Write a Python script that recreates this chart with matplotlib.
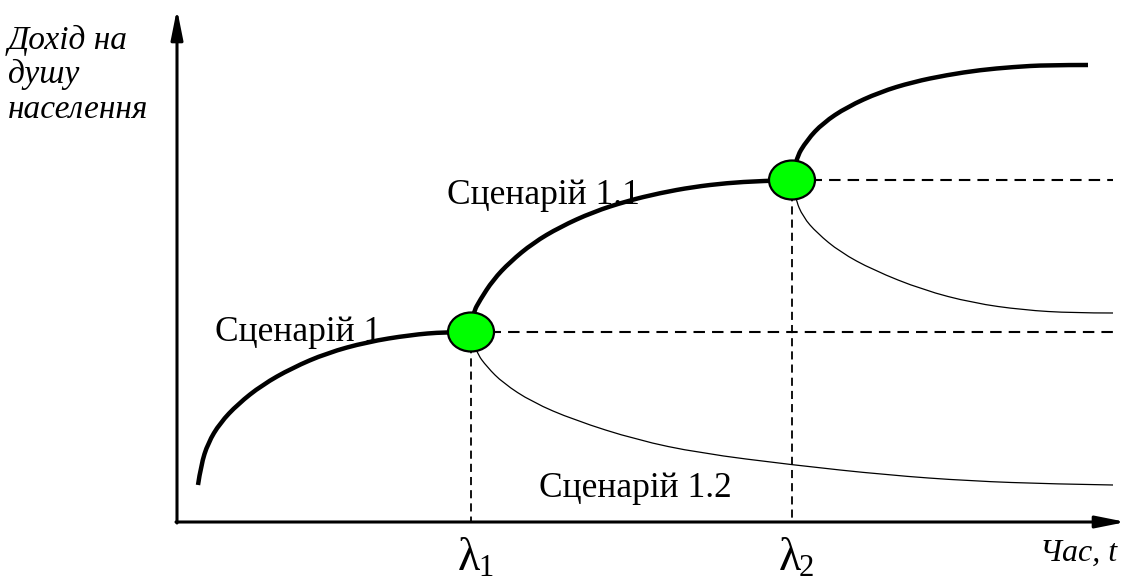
import matplotlib.pyplot as plt
from matplotlib.patches import Ellipse, PathPatch
from matplotlib.path import Path

# scenario curves (x to the right, y downward)
s1_x = [198, 201, 208, 220, 238, 262, 292, 327, 367, 410, 445, 470]
s1_y = [485, 465, 443, 423, 404, 385, 368, 353, 342, 335, 332, 332]

s11_x = [470, 473, 480, 493, 510, 533, 560, 593, 627, 660, 693, 727, 760, 793]
s11_y = [332, 313, 300, 280, 262, 243, 227, 212, 201, 193, 187, 183, 181, 180]

s111_x = [793, 795, 807, 823, 847, 880, 913, 947, 980, 1013, 1047, 1088]
s111_y = [180, 160, 140, 123, 107, 92, 82, 75, 70, 67, 65, 65]

s12_x = [470, 476, 487, 503, 532, 574, 637, 699, 793, 887, 970, 1053, 1113]
s12_y = [332, 352, 367, 383, 402, 420, 440, 453, 465, 475, 481, 484, 485]

s112_x = [793, 795, 803, 817, 840, 873, 923, 973, 1023, 1073, 1113]
s112_y = [180, 198, 217, 233, 252, 270, 290, 303, 310, 313, 313]

# branching points
nodes_x = [471, 792]
nodes_y = [332, 180]
lam_labels = ['1', '2']

x0, y0 = 177, 522
x_end = 1113


def smooth_path(xs, ys):
    # quadratic bezier through the midpoints, read points act as controls
    pts = list(zip(xs, ys))
    verts = [pts[0]]
    codes = [Path.MOVETO]
    for i in range(1, len(pts) - 1):
        mid = ((pts[i][0] + pts[i + 1][0]) / 2, (pts[i][1] + pts[i + 1][1]) / 2)
        if i == len(pts) - 2:
            mid = pts[-1]
        verts += [pts[i], mid]
        codes += [Path.CURVE3, Path.CURVE3]
    return Path(verts, codes)


fig = plt.figure(figsize=(11.26, 5.82), dpi=100)
ax = fig.add_axes([0, 0, 1, 1])
ax.set_xlim(0, 1126)
ax.set_ylim(582, 0)
ax.axis('off')

serif = 'Liberation Serif'

# axes with arrows
ax.annotate('', xy=(x0, 9), xytext=(x0, y0 + 1),
            arrowprops=dict(arrowstyle='-|>,head_length=0.9,head_width=0.18',
                            mutation_scale=20, lw=2.2, color='black',
                            shrinkA=0, shrinkB=0))
ax.annotate('', xy=(1126, y0), xytext=(x0 - 1, y0),
            arrowprops=dict(arrowstyle='-|>,head_length=0.9,head_width=0.18',
                            mutation_scale=20, lw=2.2, color='black',
                            shrinkA=0, shrinkB=0))

# dashed guides
for nx, ny in zip(nodes_x, nodes_y):
    ax.plot([nx, x_end], [ny, ny], color='black', lw=1.5,
            linestyle=(0, (5.5, 3.4)), zorder=2)
    ax.plot([nx, nx], [ny, y0], color='black', lw=1.3,
            linestyle=(0, (4.5, 2.8)), zorder=2)

# thin branches (pessimistic scenarios)
for xs, ys in [(s12_x, s12_y), (s112_x, s112_y)]:
    ax.add_patch(PathPatch(smooth_path(xs, ys), fill=False, edgecolor='black',
                           lw=0.9, zorder=3))

# thick main path
for xs, ys in [(s1_x, s1_y), (s11_x, s11_y), (s111_x, s111_y)]:
    ax.add_patch(PathPatch(smooth_path(xs, ys), fill=False, edgecolor='black',
                           lw=3.2, capstyle='butt', zorder=3))

for nx, ny in zip(nodes_x, nodes_y):
    ax.add_patch(Ellipse((nx, ny), 46, 39, facecolor='#00ff00',
                         edgecolor='black', lw=1.6, zorder=5))

# scenario labels
ax.text(215, 341, 'Сценарій 1', fontsize=25.5, family=serif, zorder=1)
ax.text(447, 204, 'Сценарій 1.1', fontsize=25.5, family=serif, zorder=1)
ax.text(539, 497, 'Сценарій 1.2', fontsize=25.5, family=serif, zorder=1)

# axis titles
ax.text(8, 49, 'Дохід на', fontsize=24, family=serif, style='italic')
ax.text(8, 83, 'душу', fontsize=24, family=serif, style='italic')
ax.text(8, 118, 'населення', fontsize=24, family=serif, style='italic')
ax.text(1117, 561, 'Час, t', fontsize=23, family=serif, style='italic',
        ha='right')

# lambda marks
for nx, lab in zip(nodes_x, lam_labels):
    ax.text(nx - 13, 570, 'λ', fontsize=33, family=serif, ha='left')
    ax.text(nx + 7, 576, lab, fontsize=22, family=serif, ha='left')

fig.savefig('out.png', dpi=100)
